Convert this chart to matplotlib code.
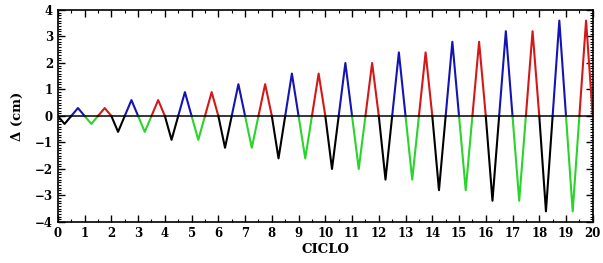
import matplotlib
matplotlib.use("Agg")
import matplotlib.pyplot as plt
from matplotlib.ticker import MultipleLocator

# Data: amplitude (cm) of each cycle
cycles = list(range(20))
amplitudes = [0.3, 0.3, 0.6, 0.6, 0.9, 0.9, 1.2, 1.2, 1.6, 1.6,
              2.0, 2.0, 2.4, 2.4, 2.8, 2.8, 3.2, 3.2, 3.6, 3.6]
neg_colors = ["black", "#2ad42a"]
pos_colors = ["#1414b4", "#d41818"]
xticks = list(range(0, 21))
yticks = list(range(-4, 5))

fig = plt.figure(figsize=(6.03, 2.63), dpi=100)
ax = fig.add_axes([0.096, 0.156, 0.887, 0.806])

for k, a in zip(cycles, amplitudes):
    ax.plot([k, k + 0.25, k + 0.5], [0, -a, 0], color=neg_colors[k % 2], lw=1.5)
    ax.plot([k + 0.5, k + 0.75, k + 1], [0, a, 0], color=pos_colors[k % 2], lw=1.5)

ax.axhline(0, color="black", lw=1.1, zorder=3)
ax.set_xlim(0, 20)
ax.set_ylim(-4, 4)
ax.set_xticks(xticks)
ax.set_yticks(yticks)
ax.xaxis.set_minor_locator(MultipleLocator(0.5))
ax.yaxis.set_minor_locator(MultipleLocator(0.1))
ax.tick_params(which="both", direction="in", top=True, right=True)
ax.tick_params(which="major", length=5, width=1.0)
ax.tick_params(which="minor", length=2.5, width=0.8)
for lab in ax.get_xticklabels() + ax.get_yticklabels():
    lab.set_fontweight("bold")
    lab.set_fontfamily("DejaVu Serif")
    lab.set_fontsize(8.5)
for s in ax.spines.values():
    s.set_linewidth(1.2)
ax.set_xlabel("CICLO", fontweight="bold", family="DejaVu Serif", fontsize=9.5, labelpad=2)
ax.set_ylabel("Δ (cm)", fontweight="bold", family="DejaVu Serif", fontsize=9.5, labelpad=8)

fig.savefig("out.png", dpi=100)
